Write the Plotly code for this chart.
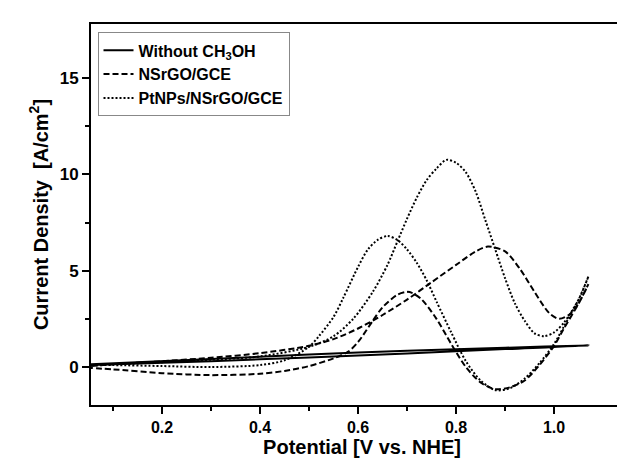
import plotly.graph_objects as go

# Without CH3OH (forward then reverse)
x_blank = [0.055, 0.3, 0.5, 0.7, 0.9, 1.07, 0.9, 0.7, 0.5, 0.3, 0.055]
y_blank = [0.10, 0.30, 0.50, 0.70, 0.93, 1.12, 1.00, 0.85, 0.65, 0.42, 0.15]

# NSrGO/GCE
x_nsrgo = [0.055, 0.1, 0.2, 0.3, 0.4, 0.5, 0.55, 0.6, 0.65, 0.7, 0.75, 0.8, 0.84, 0.865, 0.9, 0.93,
           0.96, 0.99, 1.01, 1.03, 1.05, 1.07,
           1.05, 1.02, 1.0, 0.97, 0.94, 0.91, 0.88, 0.85, 0.82, 0.79, 0.76, 0.73, 0.71, 0.70,
           0.68, 0.65, 0.63, 0.6, 0.58, 0.55, 0.5, 0.45, 0.4, 0.3, 0.2, 0.1, 0.055]
y_nsrgo = [0.05, 0.15, 0.30, 0.48, 0.72, 1.10, 1.45, 2.0, 2.7, 3.5, 4.4, 5.3, 6.0, 6.25, 6.0, 5.1,
           3.9, 2.8, 2.5, 2.7, 3.3, 4.3,
           3.3, 2.0, 1.1, 0.1, -0.7, -1.05, -1.15, -0.8, 0.0, 1.2, 2.5, 3.5, 3.85, 3.9,
           3.75, 3.1, 2.4, 1.3, 0.8, 0.45, 0.05, -0.2, -0.35, -0.42, -0.32, -0.12, -0.05]

# PtNPs/NSrGO/GCE
x_pt = [0.055, 0.1, 0.2, 0.3, 0.4, 0.5, 0.55, 0.59, 0.63, 0.66, 0.68, 0.7, 0.72, 0.74, 0.76, 0.78,
        0.80, 0.82, 0.84, 0.86, 0.88, 0.90, 0.92, 0.94, 0.96, 0.98, 1.0, 1.02, 1.05, 1.07,
        1.05, 1.02, 1.0, 0.97, 0.94, 0.91, 0.88, 0.85, 0.82, 0.79, 0.76, 0.74, 0.72, 0.70,
        0.68, 0.66, 0.64, 0.62, 0.6, 0.57, 0.55, 0.52, 0.5, 0.45, 0.4, 0.3, 0.2, 0.1, 0.055]
y_pt = [0.10, 0.15, 0.25, 0.38, 0.55, 1.05, 1.6, 2.5, 3.9, 5.3, 6.5, 7.7, 8.8, 9.7, 10.3, 10.75,
        10.6, 10.1, 9.1, 7.6, 6.1, 4.6, 3.3, 2.4, 1.75, 1.6, 1.8, 2.3, 3.5, 4.7,
        3.5, 2.1, 1.2, 0.2, -0.6, -1.1, -1.2, -0.7, 0.3, 1.8, 3.4, 4.5, 5.4, 6.1,
        6.6, 6.8, 6.6, 6.1, 5.2, 3.6, 2.6, 1.6, 1.05, 0.35, 0.1, 0.0, 0.05, 0.1, 0.1]

x_ticks = [0.2, 0.4, 0.6, 0.8, 1.0]
x_ticktext = ["0.2", "0.4", "0.6", "0.8", "1.0"]
x_minor = [0.1, 0.3, 0.5, 0.7, 0.9]
y_ticks = [0, 5, 10, 15]
y_minor = [2.5, 7.5, 12.5]

font_family = "Arial, Liberation Sans, sans-serif"

fig = go.Figure()
fig.add_trace(go.Scatter(x=x_blank, y=y_blank, mode="lines", name="Without CH<sub>3</sub>OH",
                         line=dict(color="black", width=2, shape="spline", smoothing=0.6)))
fig.add_trace(go.Scatter(x=x_nsrgo, y=y_nsrgo, mode="lines", name="NSrGO/GCE",
                         line=dict(color="black", width=2, dash="6px,3px", shape="spline", smoothing=0.8)))
fig.add_trace(go.Scatter(x=x_pt, y=y_pt, mode="lines", name="PtNPs/NSrGO/GCE",
                         line=dict(color="black", width=2, dash="2px,2px", shape="spline", smoothing=0.8)))

fig.update_layout(
    width=625, height=461,
    margin=dict(l=83, r=0, t=16, b=64),
    paper_bgcolor="white", plot_bgcolor="white",
    font=dict(family=font_family, color="black", size=16, weight="bold"),
    showlegend=True,
    legend=dict(x=0.012, y=0.978, xanchor="left", yanchor="top",
                bordercolor="#888888", borderwidth=1, bgcolor="white",
                font=dict(size=16, weight="bold"), itemwidth=30,
                tracegroupgap=0),
)
fig.update_xaxes(range=[0.055, 1.161], tickvals=x_ticks, ticktext=x_ticktext,
                 showline=True, linecolor="black", linewidth=2, mirror=True,
                 ticks="outside", ticklen=7, tickwidth=2, tickcolor="black",
                 minor=dict(tickvals=x_minor, ticks="outside", ticklen=4, tickwidth=2, tickcolor="black"),
                 showgrid=False, zeroline=False,
                 tickfont=dict(size=16, weight="bold"),
                 title=dict(text="Potential [V vs. NHE]", font=dict(size=20, weight="bold"), standoff=4))
fig.update_yaxes(range=[-1.97, 17.8], tickvals=y_ticks,
                 showline=True, linecolor="black", linewidth=2, mirror=False,
                 ticks="outside", ticklen=7, tickwidth=2, tickcolor="black",
                 minor=dict(tickvals=y_minor, ticks="outside", ticklen=4, tickwidth=2, tickcolor="black"),
                 showgrid=False, zeroline=False,
                 tickfont=dict(size=17, weight="bold"),
                 title=dict(text="Current Density  [A/cm<sup>2</sup>]", font=dict(size=20, weight="bold"), standoff=6))

fig.write_html("out.html")
